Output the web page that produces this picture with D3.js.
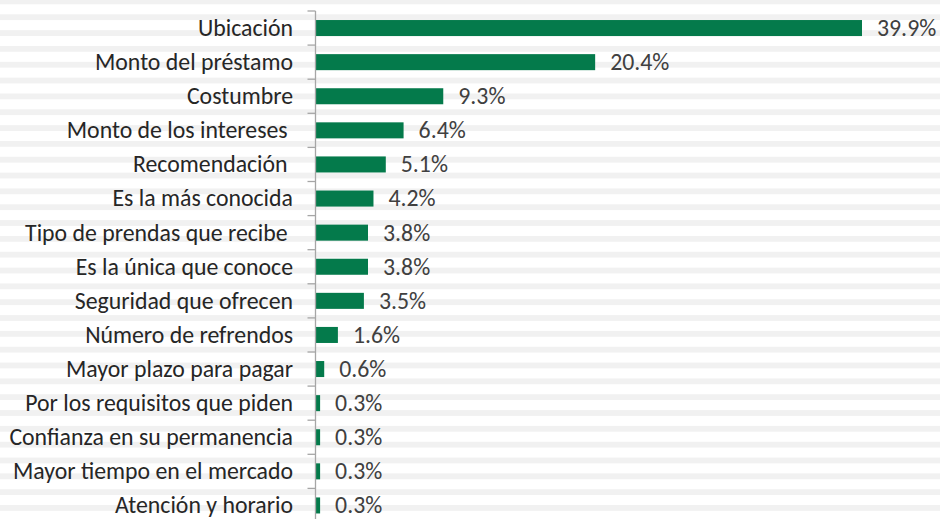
<!DOCTYPE html>
<html>
<head>
<meta charset="utf-8">
<script src="https://cdn.jsdelivr.net/npm/d3@7"></script>
<style>
  html, body { margin: 0; padding: 0; background: #fff; }
  svg { display: block; }
</style>
</head>
<body>
<svg id="chart" width="940" height="519"></svg>
<script>
const categories = [
  'Ubicación',
  'Monto del préstamo',
  'Costumbre',
  'Monto de los intereses ',
  'Recomendación ',
  'Es la más conocida',
  'Tipo de prendas que recibe ',
  'Es la única que conoce',
  'Seguridad que ofrecen',
  'Número de refrendos',
  'Mayor plazo para pagar',
  'Por los requisitos que piden',
  'Confianza en su permanencia',
  'Mayor tiempo en el mercado',
  'Atención y horario'
];
const values = [39.9, 20.4, 9.3, 6.4, 5.1, 4.2, 3.8, 3.8, 3.5, 1.6, 0.6, 0.3, 0.3, 0.3, 0.3];
const valueLabels = ['39.9%', '20.4%', '9.3%', '6.4%', '5.1%', '4.2%', '3.8%', '3.8%', '3.5%', '1.6%', '0.6%', '0.3%', '0.3%', '0.3%', '0.3%'];

const W = 940, H = 519;
const font = 'Carlito, Calibri, Lato, sans-serif';
const fontSize = 23.8;
const axisX = 315.5;
const plotTop = 11;
const step = 34.1;

const svg = d3.select('#chart');

// striped background
const stripePeriod = 15.83;
svg.append('g').selectAll('rect')
  .data(d3.range(-1.5, H, stripePeriod))
  .join('rect')
  .attr('x', 0).attr('y', d => d).attr('width', W).attr('height', 5.8)
  .attr('fill', '#f1f1f1');

const y = d3.scaleBand().domain(categories).range([plotTop, plotTop + step * categories.length]).paddingInner(0.53).paddingOuter(0.265);
const x = d3.scaleLinear().domain([0, 39.9]).range([axisX + 0.5, 862]);

const g = svg.append('g');

g.selectAll('rect.bar')
  .data(values)
  .join('rect')
  .attr('class', 'bar')
  .attr('x', x(0))
  .attr('y', (d, i) => y(categories[i]))
  .attr('width', d => x(d) - x(0))
  .attr('height', y.bandwidth())
  .attr('fill', '#047a4b');

g.selectAll('text.val')
  .data(values)
  .join('text')
  .attr('class', 'val')
  .attr('x', d => x(d) + 15)
  .attr('y', (d, i) => y(categories[i]) + y.bandwidth() / 2)
  .attr('dy', '0.33em')
  .attr('font-family', font).attr('font-size', fontSize)
  .attr('fill', '#404040')
  .text((d, i) => valueLabels[i]);

// category axis
const axis = svg.append('g').attr('transform', `translate(${axisX},0)`);
axis.append('line').attr('x1', 0).attr('x2', 0).attr('y1', plotTop).attr('y2', H).attr('stroke', '#a6a6a6').attr('stroke-width', 1.3);
const tickYs = d3.range(categories.length + 1).map(i => plotTop + i * step);
axis.selectAll('line.tick')
  .data(tickYs)
  .join('line')
  .attr('class', 'tick')
  .attr('x1', -8).attr('x2', 0)
  .attr('y1', d => d).attr('y2', d => d)
  .attr('stroke', '#a6a6a6').attr('stroke-width', 1.3);

svg.append('g').selectAll('text')
  .data(categories)
  .join('text')
  .attr('x', 293)
  .attr('y', d => y(d) + y.bandwidth() / 2)
  .attr('dy', '0.33em')
  .attr('text-anchor', 'end')
  .style('white-space', 'pre')
  .attr('font-family', font).attr('font-size', fontSize)
  .attr('fill', '#262626')
  .text(d => d);
</script>
</body>
</html>
